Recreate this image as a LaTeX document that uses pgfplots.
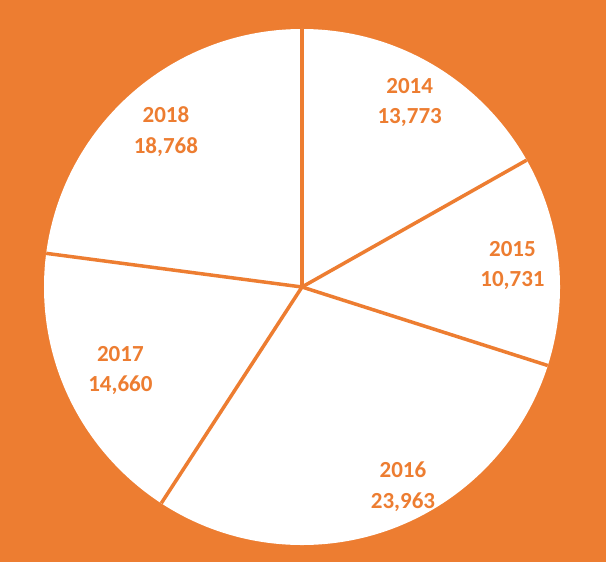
\documentclass[border=0pt]{standalone}
\usepackage{fontspec}
\setmainfont{Carlito}
\usepackage{pgfplots}
\pgfplotsset{compat=1.18}
\usepgfplotslibrary{polar}
\definecolor{xlorange}{HTML}{ED7D31}

% values per year
\def\vA{13773}% 2014
\def\vB{10731}% 2015
\def\vC{23963}% 2016
\def\vD{14660}% 2017
\def\vE{18768}% 2018
\edef\tot{\fpeval{\vA+\vB+\vC+\vD+\vE}}
% slice boundaries, clockwise from the top
\edef\bA{90}
\edef\bB{\fpeval{\bA-360*\vA/\tot}}
\edef\bC{\fpeval{\bB-360*\vB/\tot}}
\edef\bD{\fpeval{\bC-360*\vC/\tot}}
\edef\bE{\fpeval{\bD-360*\vD/\tot}}
% mid angles for labels
\edef\mA{\fpeval{(\bA+\bB)/2}}
\edef\mB{\fpeval{(\bB+\bC)/2}}
\edef\mD{\fpeval{(\bD+\bE)/2}}
\edef\mE{\fpeval{(\bE+\bA-360)/2}}

\begin{document}
\begin{tikzpicture}
\path[use as bounding box] (0,0) rectangle (242.4pt,224.8pt);
\fill[xlorange] (0,0) rectangle (242.4pt,224.8pt);
\begin{polaraxis}[
    at={(120.8pt,110pt)}, anchor=center,
    width=206.4pt, height=206.4pt, scale only axis,
    xmin=0, xmax=360, ymin=0, ymax=1,
    xtick=\empty, ytick=\empty,
    axis line style={draw=none},
    axis background/.style={fill=white},
    clip=false,
]
\pgfplotsinvokeforeach{\bA,\bB,\bC,\bD,\bE}{
  \addplot[xlorange, line width=1.4pt, no marks] coordinates {(#1,0) (#1,1)};
}
\tikzset{lbl/.style={text=xlorange, font=\fontsize{9.2}{12.2}\selectfont\bfseries, align=center}}
\node[lbl] at (axis cs:\mA,0.828) {2014\\13,773};
\node[lbl] at (axis cs:\mB,0.82) {2015\\10,731};
\node[lbl] at (axis cs:-63.2,0.868) {2016\\23,963};
\node[lbl] at (axis cs:\mD,0.775) {2017\\14,660};
\node[lbl] at (axis cs:\mE,0.80) {2018\\18,768};
\end{polaraxis}
\end{tikzpicture}
\end{document}
